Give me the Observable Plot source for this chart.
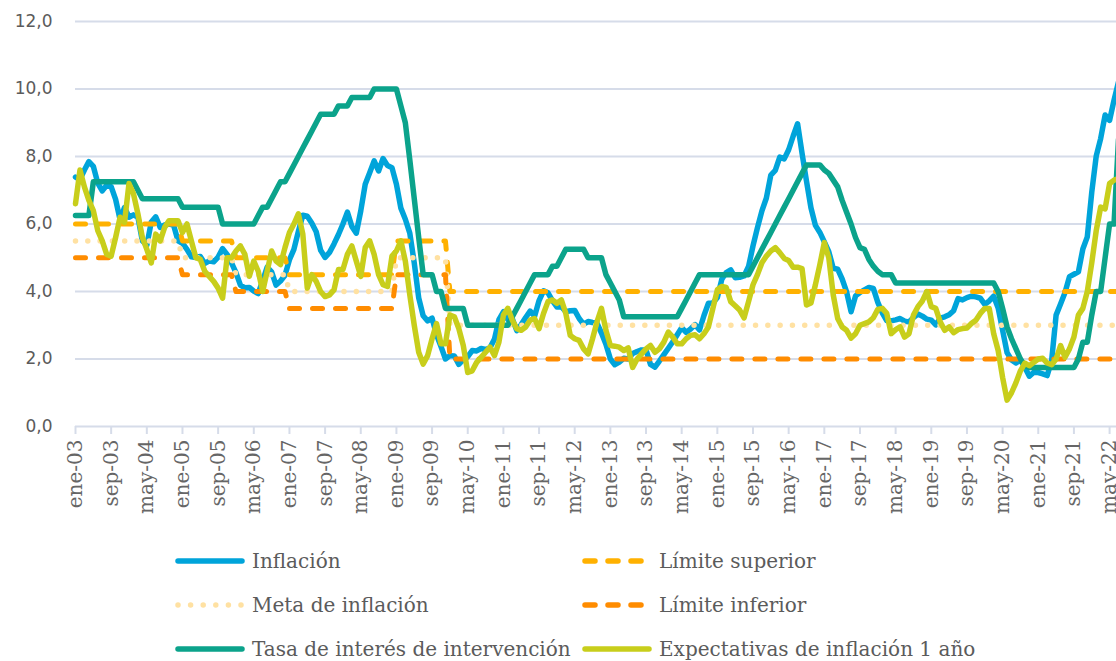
<!DOCTYPE html>
<html><head><meta charset="utf-8">
<script src="https://cdn.jsdelivr.net/npm/d3@7"></script>
<script src="https://cdn.jsdelivr.net/npm/@observablehq/plot@0.6"></script>
<style>
html,body{margin:0;padding:0;background:#fff;overflow:hidden;width:1116px;height:661px;}
#wrap{position:relative;width:1116px;height:661px;}
#chart svg{display:block;overflow:hidden;}
#chart g[aria-label="x-axis tick label"] text{font-family:"DejaVu Serif";font-size:20px;}
#chart g[aria-label="y-axis tick label"] text{font-family:"DejaVu Sans";font-size:17px;}
.leg{position:absolute;display:flex;align-items:center;height:24px;font-family:"DejaVu Serif";font-size:20px;color:#5b5b5b;white-space:nowrap;}
.leg svg{margin-right:7px;flex:none;}
</style></head><body>
<div id="wrap"><div id="chart"></div><div id="legend"></div></div>
<script>
// Monthly series, ene-03 .. jul-22
const inflacion = [
7.39,7.32,7.60,7.85,7.71,7.21,6.98,7.15,7.11,6.73,6.13,6.49,
6.20,6.27,6.21,5.50,5.37,6.06,6.21,5.90,5.97,6.00,5.97,5.50,
5.43,5.25,5.03,5.01,5.04,4.83,4.91,4.88,5.02,5.27,5.10,4.85,
4.56,4.19,4.11,4.12,4.01,3.94,4.32,4.72,4.58,4.19,4.31,4.48,
4.94,5.25,5.78,6.26,6.23,6.03,5.77,5.22,5.01,5.16,5.41,5.69,
6.00,6.35,5.93,5.73,6.39,7.18,7.52,7.87,7.57,7.94,7.73,7.67,
7.18,6.47,6.14,5.73,4.85,3.81,3.28,3.13,3.21,2.72,2.37,2.00,
2.10,2.09,1.84,1.98,2.07,2.25,2.24,2.31,2.28,2.33,2.59,3.17,
3.40,3.17,3.19,2.84,3.02,3.23,3.42,3.27,3.73,4.02,3.96,3.73,
3.54,3.55,3.40,3.43,3.44,3.20,3.03,3.11,3.08,3.06,2.77,2.44,
2.00,1.83,1.91,2.02,2.00,2.16,2.22,2.27,2.27,1.84,1.76,1.94,
2.13,2.32,2.51,2.72,2.93,2.79,2.89,3.02,2.86,3.29,3.65,3.66,
3.82,4.36,4.56,4.64,4.41,4.42,4.46,4.74,5.35,5.89,6.39,6.77,
7.45,7.59,7.98,7.93,8.20,8.60,8.97,8.10,7.27,6.48,5.96,5.75,
5.47,5.18,4.69,4.66,4.37,3.99,3.40,3.87,3.97,4.05,4.12,4.09,
3.68,3.37,3.14,3.13,3.16,3.20,3.12,3.10,3.23,3.33,3.27,3.18,
3.15,3.01,3.21,3.25,3.31,3.43,3.79,3.75,3.82,3.86,3.84,3.80,
3.62,3.72,3.86,3.51,2.85,2.19,1.97,1.88,1.97,1.75,1.49,1.61,
1.60,1.56,1.51,1.95,3.30,3.63,3.97,4.44,4.51,4.58,5.26,5.62,
6.94,8.01,8.53,9.23,9.07,9.67,10.21];

const tasa = [
6.25,6.25,6.25,6.25,7.25,7.25,7.25,7.25,7.25,7.25,7.25,7.25,
7.25,7.25,7.0,6.75,6.75,6.75,6.75,6.75,6.75,6.75,6.75,6.75,
6.5,6.5,6.5,6.5,6.5,6.5,6.5,6.5,6.5,6.0,6.0,6.0,
6.0,6.0,6.0,6.0,6.0,6.25,6.5,6.5,6.75,7.0,7.25,7.25,
7.5,7.75,8.0,8.25,8.5,8.75,9.0,9.25,9.25,9.25,9.25,9.5,
9.5,9.5,9.75,9.75,9.75,9.75,9.75,10.0,10.0,10.0,10.0,10.0,
10.0,9.5,9.0,7.9,6.75,5.6,4.5,4.5,4.5,4.0,4.0,3.5,
3.5,3.5,3.5,3.5,3.0,3.0,3.0,3.0,3.0,3.0,3.0,3.0,
3.0,3.0,3.25,3.5,3.75,4.0,4.25,4.5,4.5,4.5,4.5,4.75,
4.75,5.0,5.25,5.25,5.25,5.25,5.25,5.0,5.0,5.0,5.0,4.5,
4.25,4.0,3.75,3.25,3.25,3.25,3.25,3.25,3.25,3.25,3.25,3.25,
3.25,3.25,3.25,3.25,3.5,3.75,4.0,4.25,4.5,4.5,4.5,4.5,
4.5,4.5,4.5,4.5,4.5,4.5,4.5,4.5,4.75,5.0,5.25,5.5,
5.75,6.0,6.25,6.5,6.75,7.0,7.25,7.5,7.75,7.75,7.75,7.75,
7.6,7.5,7.3,7.1,6.7,6.35,6.0,5.6,5.3,5.25,4.95,4.75,
4.6,4.5,4.5,4.5,4.25,4.25,4.25,4.25,4.25,4.25,4.25,4.25,
4.25,4.25,4.25,4.25,4.25,4.25,4.25,4.25,4.25,4.25,4.25,4.25,
4.25,4.25,4.25,4.0,3.5,2.95,2.6,2.3,2.0,1.8,1.75,1.75,
1.75,1.75,1.75,1.75,1.75,1.75,1.75,1.75,1.75,2.0,2.5,2.5,
3.3,4.0,4.0,5.0,6.0,6.0,8.5];

const expectativas = [
6.6,7.6,7.1,6.7,6.4,5.8,5.5,5.1,5.05,5.6,6.2,6.05,
7.2,6.9,6.3,5.6,5.25,4.85,5.7,5.5,5.9,6.1,6.1,6.1,
5.75,6.0,5.5,5.0,4.95,4.6,4.45,4.3,4.1,3.8,5.0,5.0,
5.2,5.35,5.1,4.45,4.9,4.6,4.0,4.6,5.2,4.9,4.8,5.3,
5.75,6.0,6.3,5.7,4.1,4.5,4.3,4.0,3.85,3.9,4.05,4.65,
4.65,5.1,5.35,4.9,4.45,5.3,5.5,5.1,4.5,4.2,4.15,5.05,
5.2,5.5,4.9,3.9,3.0,2.2,1.85,2.1,2.6,3.05,2.45,2.45,
3.3,3.25,2.9,2.4,1.6,1.65,1.9,2.05,2.2,2.35,2.1,2.5,
3.3,3.5,3.15,2.9,2.85,2.95,3.15,3.2,2.9,3.35,3.7,3.75,
3.65,3.75,3.35,2.7,2.6,2.55,2.3,2.15,2.6,3.1,3.5,2.85,
2.4,2.38,2.35,2.25,2.33,1.75,2.0,2.15,2.3,2.4,2.2,2.3,
2.5,2.8,2.65,2.45,2.45,2.6,2.7,2.72,2.6,2.75,2.95,3.5,
4.05,4.15,4.12,3.7,3.58,3.45,3.22,3.7,4.2,4.5,4.85,5.05,
5.2,5.3,5.15,4.98,4.92,4.72,4.72,4.68,3.6,3.66,4.2,4.8,
5.45,5.0,3.9,3.2,2.95,2.85,2.62,2.75,3.0,3.05,3.1,3.22,
3.47,3.5,3.35,2.75,2.87,2.95,2.65,2.75,3.3,3.55,3.72,4.0,
3.55,3.5,3.1,2.85,2.95,2.78,2.87,2.9,2.92,3.05,3.15,3.35,
3.5,3.5,2.75,2.25,1.45,0.78,1.0,1.3,1.65,1.88,1.8,1.9,
2.0,2.02,1.88,1.83,2.0,2.4,2.05,2.3,2.65,3.3,3.5,4.0,
4.85,5.8,6.5,6.45,7.2,7.3,7.35];

// Yearly targets 2003..2022
const limiteSuperior = [6,6,5.5,5,4.5,4.5,5.5,4,4,4,4,4,4,4,4,4,4,4,4,4];
const metaInflacion  = [5.5,5.5,5,4.5,4,4,5,3,3,3,3,3,3,3,3,3,3,3,3,3];
const limiteInferior = [5,5,4.5,4,3.5,3.5,4.5,2,2,2,2,2,2,2,2,2,2,2,2,2];

const xTickLabels = ["ene-03","sep-03","may-04","ene-05","sep-05","may-06","ene-07","sep-07","may-08","ene-09","sep-09","may-10","ene-11","sep-11","may-12","ene-13","sep-13","may-14","ene-15","sep-15","may-16","ene-17","sep-17","may-18","ene-19","sep-19","may-20","ene-21","sep-21","may-22"];
const yTicks = [0,2,4,6,8,10,12];

const C = {inf:"#00A4DA", sup:"#FFB100", meta:"#FFE1A2", infl:"#FF8C00", tasa:"#0BA38B", exp:"#C8CE1B", grid:"#D6DCE9"};

const idx = d3.range(inflacion.length);
const xTickPos = xTickLabels.map((_, k) => k * 8);

const chart = Plot.plot({
  width: 1116, height: 540,
  marginLeft: 75, marginRight: 0, marginTop: 21, marginBottom: 114,
  x: {type: "linear", domain: [0, 234], range: [75, 1118], axis: null},
  y: {domain: [0, 12], range: [426, 21], axis: null},
  style: {fontFamily: "DejaVu Sans", fontSize: "17px", background: "transparent"},
  marks: [
    Plot.gridY(yTicks.filter(d => d > 0), {stroke: C.grid, strokeOpacity: 1, strokeWidth: 2}),
    Plot.ruleY([0], {stroke: C.grid, strokeWidth: 2}),
    Plot.axisY(yTicks, {tickSize: 0, tickPadding: 23, tickFormat: d => d.toFixed(1).replace(".", ","), fill: "#5b5b5b", label: null}),
    Plot.axisX(xTickPos, {tickSize: 8, tickPadding: 5, tickRotate: -90, tickFormat: d => xTickLabels[d / 8], stroke: C.grid, strokeWidth: 2, fill: "#666", label: null}),
    Plot.line(idx, {x: d => d, y: d => inflacion[d], stroke: C.inf, strokeWidth: 5.5, strokeLinejoin: "round"}),
    Plot.line(idx, {x: d => d, y: d => limiteSuperior[Math.floor(d / 12)], stroke: C.sup, strokeWidth: 5, strokeDasharray: "10,13", strokeLinecap: "round", strokeLinejoin: "round"}),
    Plot.line(idx, {x: d => d, y: d => metaInflacion[Math.floor(d / 12)], stroke: C.meta, strokeWidth: 5.5, strokeDasharray: "0,12.3", strokeLinecap: "round", strokeLinejoin: "round"}),
    Plot.line(idx, {x: d => d, y: d => limiteInferior[Math.floor(d / 12)], stroke: C.infl, strokeWidth: 5, strokeDasharray: "10,13", strokeLinecap: "round", strokeLinejoin: "round"}),
    Plot.line(idx, {x: d => d, y: d => tasa[d], stroke: C.tasa, strokeWidth: 5.5, strokeLinejoin: "round"}),
    Plot.line(idx, {x: d => d, y: d => expectativas[d], stroke: C.exp, strokeWidth: 5.5, strokeLinejoin: "round"})
  ]
});
document.getElementById("chart").append(chart);

// Legend
const legendItems = [
  {label: "Inflación", color: C.inf, dash: null, left: 175, cy: 561},
  {label: "Límite superior", color: C.sup, dash: "10,13", left: 582, cy: 561},
  {label: "Meta de inflación", color: C.meta, dash: "0,12.6", left: 175, cy: 605},
  {label: "Límite inferior", color: C.infl, dash: "10,13", left: 582, cy: 605},
  {label: "Tasa de interés de intervención", color: C.tasa, dash: null, left: 175, cy: 649},
  {label: "Expectativas de inflación 1 año", color: C.exp, dash: null, left: 582, cy: 649}
];
const leg = document.getElementById("legend");
for (const it of legendItems) {
  const div = document.createElement("div");
  div.className = "leg";
  div.style.left = it.left + "px";
  div.style.top = (it.cy - 12) + "px";
  const dashAttr = it.dash ? ` stroke-dasharray="${it.dash}"` : "";
  div.innerHTML = `<svg width="70" height="24"><line x1="3" x2="67" y1="12" y2="12" stroke="${it.color}" stroke-width="5.5" stroke-linecap="round"${dashAttr}/></svg><span>${it.label}</span>`;
  leg.append(div);
}
</script>
</body></html>
